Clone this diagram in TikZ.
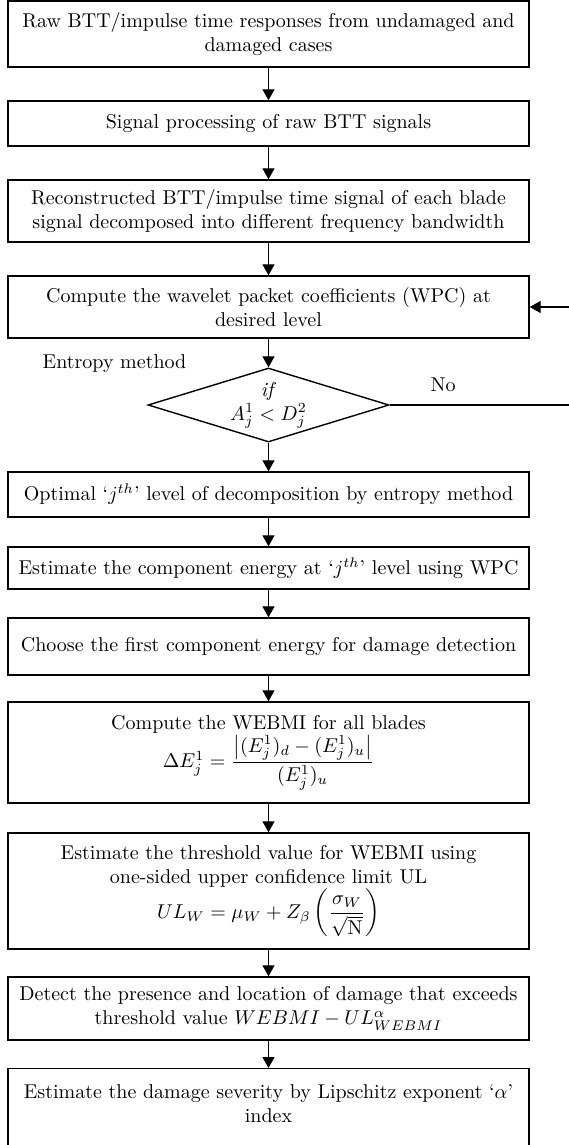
\documentclass[tikz,border=0pt]{standalone}
\usepackage{tikz}
\usetikzlibrary{arrows.meta,shapes.geometric}
\usepackage{amsmath}

\begin{document}
\begin{tikzpicture}[x=0.5pt, y=-0.5pt,
  stage/.style = {draw, line width=0.7pt, minimum width=260.5pt,
                  align=center, inner sep=2pt},
  test/.style  = {draw, diamond, aspect=3, line width=0.7pt,
                  minimum width=120.5pt, minimum height=37pt,
                  inner sep=0pt, align=center},
  arr/.style   = {-{Triangle[length=5.5pt,width=6pt]}, line width=0.6pt}
]
  \useasboundingbox (0,0) rectangle (568,1145);

  \node[stage, minimum height=33pt]   (raw)   at (268.5,34)
    {Raw BTT/impulse time responses from undamaged and\\ damaged cases};
  \node[stage, minimum height=22.5pt] (proc)  at (268.5,123.5)
    {Signal processing of raw BTT signals};
  \node[stage, minimum height=31pt]   (rec)   at (268.5,211)
    {Reconstructed BTT/impulse time signal of each blade\\ signal decomposed into different frequency bandwidth};
  \node[stage, minimum height=31pt]   (wpc)   at (268.5,307)
    {Compute the wavelet packet coefficients (WPC) at\\ desired level};
  \node[test]                         (ent)   at (268.5,405)
    {\textit{if}\\ $A^1_j < D^2_j$};
  \node[stage, minimum height=22.5pt] (opt)   at (268.5,494.5)
    {Optimal `$j^{th}$' level of decomposition by entropy method};
  \node[stage, minimum height=21pt]   (eng)   at (268.5,568)
    {Estimate the component energy at `$j^{th}$' level using WPC};
  \node[stage, minimum height=28.5pt] (first) at (268.5,646.5)
    {Choose the first component energy for damage detection};
  \node[stage, minimum height=50.5pt] (webmi) at (268.5,752.5)
    {Compute the WEBMI for all blades\\
     $\Delta E^1_j = \dfrac{\left|(E^1_j)_d - (E^1_j)_u\right|}{(E^1_j)_u}$};
  \node[stage, minimum height=58pt]   (thr)   at (268.5,891)
    {Estimate the threshold value for WEBMI using\\ one-sided upper confidence limit UL\\
     $UL_W = \mu_W + Z_\beta\left(\dfrac{\sigma_W}{\sqrt{\mathrm{N}}}\right)$};
  \node[stage, minimum height=31.5pt] (det)   at (268.5,1008.5)
    {Detect the presence and location of damage that exceeds\\ threshold value $WEBMI - UL^{\alpha}_{WEBMI}$};
  \node[stage, anchor=north, inner ysep=8pt, text depth=26pt] (sev) at (268.5,1068)
    {Estimate the damage severity by Lipschitz exponent `$\alpha$'\\ index};

  \node (entlbl) at (114.5,364) {Entropy method};
  \node (nolbl)  at (443,385)   {No};
  \coordinate (loop) at (580,405);

  \foreach \a/\b in {raw/proc, proc/rec, rec/wpc, wpc/ent, ent/opt, opt/eng,
                     eng/first, first/webmi, webmi/thr, thr/det, det/sev}{
    \draw[arr] (\a.south) -- (\b.north);
  }
  \draw[arr] (ent.east) -- (loop) |- (wpc.east);
\end{tikzpicture}
\end{document}
